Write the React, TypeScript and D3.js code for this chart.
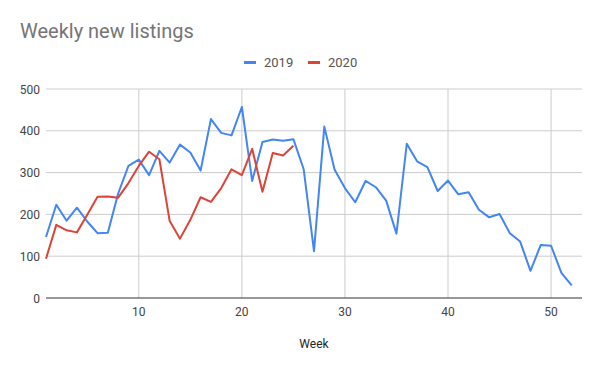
import React from "react";
import * as d3 from "d3";

const weeks: number[] = d3.range(1, 53);

const listings2019: number[] = [
  146, 223, 185, 216, 183, 155, 156, 250, 316, 331,
  294, 352, 324, 367, 348, 305, 428, 395, 389, 457,
  280, 373, 379, 376, 380, 308, 112, 410, 307, 263,
  229, 280, 265, 233, 154, 369, 327, 313, 256, 281,
  248, 253, 211, 193, 201, 155, 135, 65, 127, 125,
  60, 30,
];

const listings2020: number[] = [
  94, 175, 162, 157, 199, 242, 243, 240, 275, 316,
  350, 332, 184, 142, 187, 241, 230, 263, 308, 294,
  357, 254, 347, 341, 364,
];

const yTicks: number[] = [0, 100, 200, 300, 400, 500];
const xTicks: number[] = [10, 20, 30, 40, 50];

const series = [
  { name: "2019", color: "#4285f4", values: listings2019 },
  { name: "2020", color: "#db4437", values: listings2020 },
];

export default function App() {
  const width = 600;
  const height = 371;
  const margin = { top: 89, right: 18, bottom: 73, left: 46 };

  const x = d3
    .scaleLinear()
    .domain([1, 53])
    .range([margin.left, width - margin.right]);
  const y = d3
    .scaleLinear()
    .domain([0, 500])
    .range([height - margin.bottom, margin.top]);

  const line = d3
    .line<number>()
    .x((_, i) => x(weeks[i]))
    .y((d) => y(d));

  const font = "Roboto, Arial, sans-serif";

  return (
    <svg
      width={width}
      height={height}
      style={{ position: "absolute", left: 0, top: 0, background: "#fff" }}
    >
      <text x={20} y={38} fontFamily={font} fontSize={20} fill="#757575">
        Weekly new listings
      </text>

      {/* legend */}
      {series.map((s, i) => (
        <g key={s.name} transform={`translate(${244 + i * 64},0)`}>
          <rect x={0} y={61} width={12} height={3} fill={s.color} />
          <text x={20} y={67} fontFamily={font} fontSize={13} fill="#555">
            {s.name}
          </text>
        </g>
      ))}

      {/* gridlines */}
      {yTicks.map((t) => (
        <g key={t}>
          {t > 0 && (
            <line
              x1={margin.left}
              x2={width - margin.right}
              y1={y(t)}
              y2={y(t)}
              stroke="#cccccc"
            />
          )}
          <text
            x={40}
            y={y(t) + 4.5}
            textAnchor="end"
            fontFamily={font}
            fontSize={12}
            fill="#444"
          >
            {t}
          </text>
        </g>
      ))}
      {xTicks.map((t) => (
        <g key={t}>
          <line
            x1={x(t)}
            x2={x(t)}
            y1={margin.top}
            y2={y(0)}
            stroke="#cccccc"
          />
          <text
            x={x(t)}
            y={y(0) + 18}
            textAnchor="middle"
            fontFamily={font}
            fontSize={12}
            fill="#444"
          >
            {t}
          </text>
        </g>
      ))}

      {/* series */}
      {series.map((s) => (
        <path
          key={s.name}
          d={line(s.values) ?? ""}
          fill="none"
          stroke={s.color}
          strokeWidth={2}
          strokeLinejoin="round"
        />
      ))}

      <line
        x1={margin.left}
        x2={width - margin.right}
        y1={y(0)}
        y2={y(0)}
        stroke="#333"
      />

      <text
        x={314}
        y={348}
        textAnchor="middle"
        fontFamily={font}
        fontSize={12}
        fill="#222"
      >
        Week
      </text>
    </svg>
  );
}
